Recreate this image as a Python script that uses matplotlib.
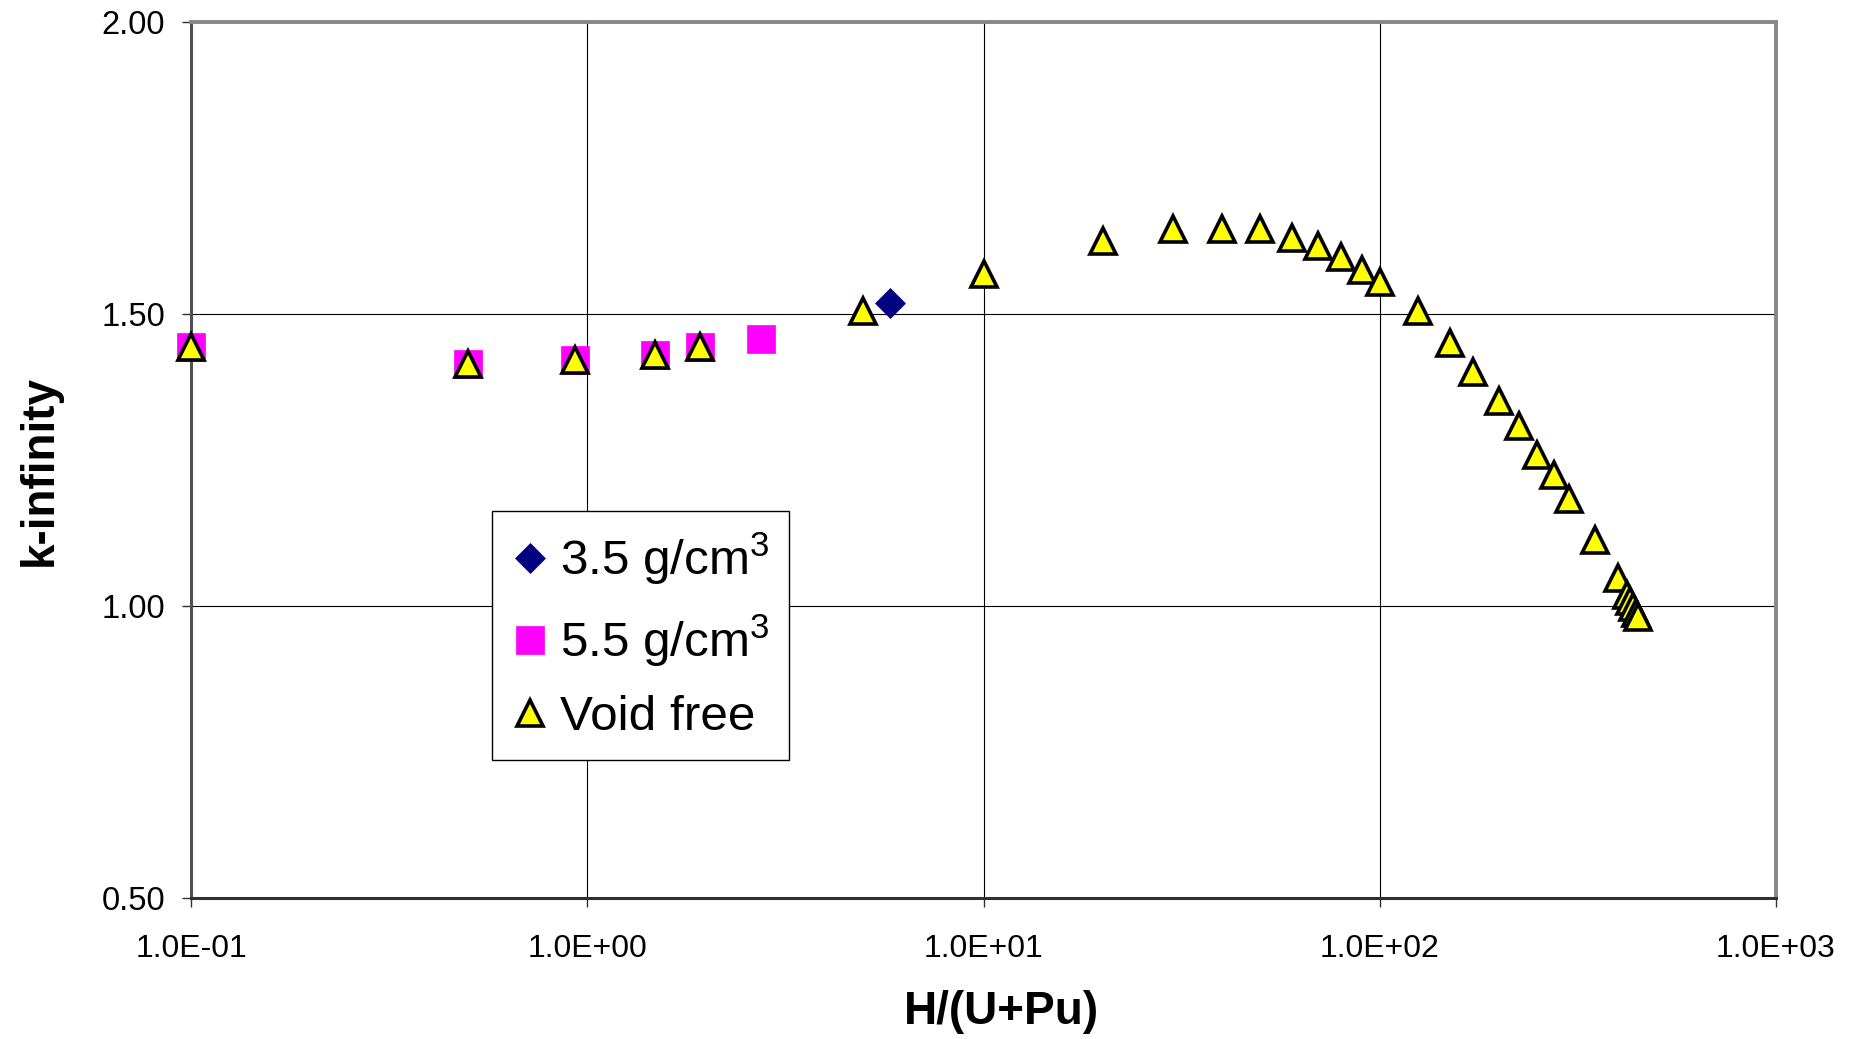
import matplotlib
matplotlib.use("Agg")
import matplotlib.pyplot as plt
from matplotlib.ticker import FixedLocator, NullLocator, FixedFormatter

plt.rcParams['font.family'] = ['Liberation Sans', 'DejaVu Sans']
plt.rcParams['mathtext.fontset'] = 'custom'
plt.rcParams['mathtext.rm'] = 'Liberation Sans'
plt.rcParams['mathtext.it'] = 'Liberation Sans:italic'
plt.rcParams['mathtext.bf'] = 'Liberation Sans:bold'

# ---- data ----
x_35 = [5.82]
k_35 = [1.518]

x_55 = [0.1, 0.5, 0.93, 1.48, 1.93, 2.74]
k_55 = [1.442, 1.414, 1.421, 1.429, 1.442, 1.456]

x_void = [0.1, 0.5, 0.93, 1.48, 1.93, 4.96, 10, 20, 30, 40, 50, 60, 70, 80, 90,
          100, 125, 150, 172, 200, 225, 250, 275, 300, 350, 400,
          420, 428, 436, 443, 449]
k_void = [1.442, 1.414, 1.421, 1.429, 1.442, 1.505, 1.568, 1.624, 1.644, 1.644, 1.644,
          1.629, 1.616, 1.596, 1.574, 1.554, 1.505, 1.449, 1.400, 1.351, 1.308,
          1.258, 1.224, 1.182, 1.112, 1.047,
          1.018, 1.007, 0.997, 0.988, 0.981]

x_ticks = [0.1, 1, 10, 100, 1000]
x_ticklabels = ['1.0E-01', '1.0E+00', '1.0E+01', '1.0E+02', '1.0E+03']
y_ticks = [0.5, 1.0, 1.5, 2.0]
y_ticklabels = ['0.50', '1.00', '1.50', '2.00']

labels = [r'3.5 g/cm$^3$', r'5.5 g/cm$^3$', 'Void free']

# ---- figure ----
W, H = 1872, 1039
fig = plt.figure(figsize=(W / 100, H / 100), dpi=100)
ax = fig.add_axes([191 / W, 1 - 897.5 / H, (1776 - 191) / W, (897.5 - 21.5) / H])

ax.plot(x_35, k_35, linestyle='none', marker='D', markersize=15.5,
        markerfacecolor='#000080', markeredgecolor='#000080', markeredgewidth=0.5,
        label=labels[0], zorder=3, clip_on=False)
ax.plot(x_55, k_55, linestyle='none', marker='s', markersize=20,
        markerfacecolor='#FF00FF', markeredgecolor='#FF00FF', markeredgewidth=0.5,
        label=labels[1], zorder=4, clip_on=False)
ax.plot(x_void, k_void, linestyle='none', marker='^', markersize=18.5,
        markerfacecolor='#FFFF00', markeredgecolor='black', markeredgewidth=2.6,
        label=labels[2], zorder=5, clip_on=False)

ax.set_xscale('log')
ax.set_xlim(0.1, 1000)
ax.set_ylim(0.5, 2.0)
ax.xaxis.set_major_locator(FixedLocator(x_ticks))
ax.xaxis.set_major_formatter(FixedFormatter(x_ticklabels))
ax.xaxis.set_minor_locator(NullLocator())
ax.yaxis.set_major_locator(FixedLocator(y_ticks))
ax.yaxis.set_major_formatter(FixedFormatter(y_ticklabels))

ax.grid(True, which='major', color='black', linewidth=0.8)
ax.set_axisbelow(True)

ax.tick_params(axis='x', direction='out', length=6.5, width=1.0, color='#303030',
               labelsize=23, pad=20)
ax.tick_params(axis='y', direction='out', length=6.5, width=1.0, color='#303030',
               labelsize=23.5, pad=12)

ax.spines['left'].set_color('#505050')
ax.spines['left'].set_linewidth(2.2)
ax.spines['bottom'].set_color('#303030')
ax.spines['bottom'].set_linewidth(2.2)
ax.spines['top'].set_color('#888888')
ax.spines['top'].set_linewidth(2.8)
ax.spines['right'].set_color('#888888')
ax.spines['right'].set_linewidth(2.8)

fig.text(1001 / W, 1 - 1012 / H, 'H/(U+Pu)', fontsize=33, fontweight='bold',
         ha='center', va='center')
fig.text(39.5 / W, 1 - 470.5 / H, 'k-infinity', fontsize=33, fontweight='bold',
         ha='center', va='center', rotation=90)

leg = ax.legend(loc='upper left', bbox_to_anchor=((492 - 191) / 1585, (897.5 - 511) / 876),
                borderaxespad=0, fontsize=35.6, frameon=True, fancybox=False,
                framealpha=1, edgecolor='black', handlelength=0.72, handletextpad=0.25,
                borderpad=0.4, labelspacing=0.52, numpoints=1)
leg.get_frame().set_linewidth(1.0)

fig.savefig('out.png', dpi=100)
